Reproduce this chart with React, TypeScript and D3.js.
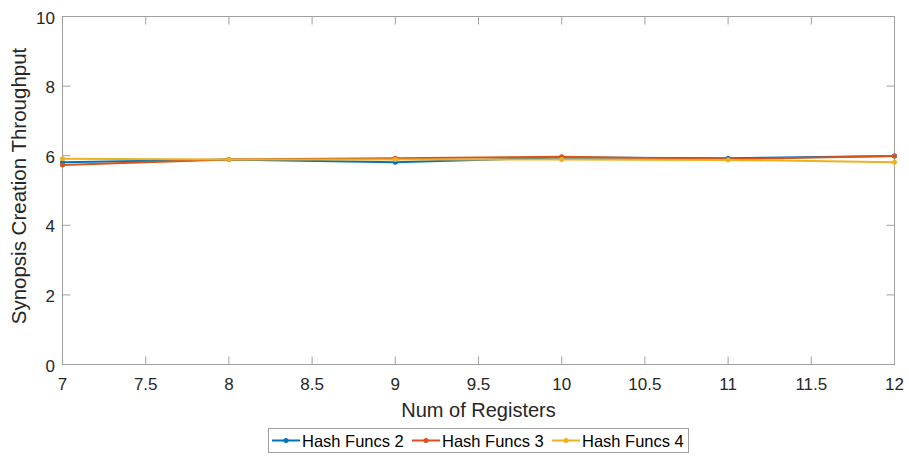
import React from "react";
import * as d3 from "d3";

const registers = [7, 8, 9, 10, 11, 12];
const hash2 = [5.81, 5.89, 5.81, 5.95, 5.93, 5.99];
const hash3 = [5.73, 5.89, 5.93, 5.97, 5.9, 5.99];
const hash4 = [5.91, 5.89, 5.89, 5.89, 5.88, 5.81];
const seriesNames = ["Hash Funcs 2", "Hash Funcs 3", "Hash Funcs 4"];
const seriesColors = ["#0072BD", "#D95319", "#EDB120"];
const xTicks = [7, 7.5, 8, 8.5, 9, 9.5, 10, 10.5, 11, 11.5, 12];
const yTicks = [0, 2, 4, 6, 8, 10];

const W = 909, H = 456;
const L = 62.5, R = 894.5, T = 16.5, B = 364.5;
const FONT = "Liberation Sans, Arial, Helvetica, sans-serif";

export default function App() {
  const x = d3.scaleLinear().domain([7, 12]).range([L, R]);
  const y = d3.scaleLinear().domain([0, 10]).range([B, T]);
  const line = d3.line<number>().x((_, i) => x(registers[i])).y((d) => y(d));
  const all = [hash2, hash3, hash4];
  const tickLen = 8;
  const legX = 268.5, legY = 428.5, legW = 420, legH = 24;
  const itemX = [272, 412, 552];
  return (
    <svg width={W} height={H} style={{ position: "absolute", left: 0, top: 0, background: "#fff" }}>
      <rect x={0} y={0} width={W} height={H} fill="#fff" />
      {xTicks.map((t) => (
        <g key={"xt" + t}>
          <line x1={x(t)} x2={x(t)} y1={B} y2={B - tickLen} stroke="#a0a0a0" />
          <line x1={x(t)} x2={x(t)} y1={T} y2={T + tickLen} stroke="#a0a0a0" />
          <text x={x(t)} y={389.5} textAnchor="middle" fontFamily={FONT} fontSize={17} fill="#262626">{t}</text>
        </g>
      ))}
      {yTicks.map((t) => (
        <g key={"yt" + t}>
          <line x1={L} x2={L + tickLen} y1={y(t)} y2={y(t)} stroke="#a0a0a0" />
          <line x1={R} x2={R - tickLen} y1={y(t)} y2={y(t)} stroke="#a0a0a0" />
          <text x={55} y={y(t) + 7} textAnchor="end" fontFamily={FONT} fontSize={17} fill="#262626">{t}</text>
        </g>
      ))}
      <rect x={L} y={T} width={R - L} height={B - T} fill="none" stroke="#a0a0a0" />
      {all.map((s, si) => (
        <g key={"s" + si}>
          <path d={line(s) || ""} fill="none" stroke={seriesColors[si]} strokeWidth={2} />
          {s.map((v, i) => (
            <circle key={i} cx={x(registers[i])} cy={y(v)} r={2.5} fill={seriesColors[si]} />
          ))}
        </g>
      ))}
      <text x={478.5} y={416.5} textAnchor="middle" fontFamily={FONT} fontSize={20} fill="#262626">Num of Registers</text>
      <text transform={`translate(26, 186) rotate(-90)`} textAnchor="middle" fontFamily={FONT} fontSize={20.5} fill="#262626">Synopsis Creation Throughput</text>
      <rect x={legX} y={legY} width={legW} height={legH} fill="#fff" stroke="#a0a0a0" />
      {seriesNames.map((n, i) => (
        <g key={"l" + i}>
          <line x1={itemX[i]} x2={itemX[i] + 28} y1={legY + 12} y2={legY + 12} stroke={seriesColors[i]} strokeWidth={2} />
          <circle cx={itemX[i] + 14} cy={legY + 12} r={2.5} fill={seriesColors[i]} />
          <text x={itemX[i] + 30} y={legY + 18} fontFamily={FONT} fontSize={16.5} fill="#000">{n}</text>
        </g>
      ))}
    </svg>
  );
}
